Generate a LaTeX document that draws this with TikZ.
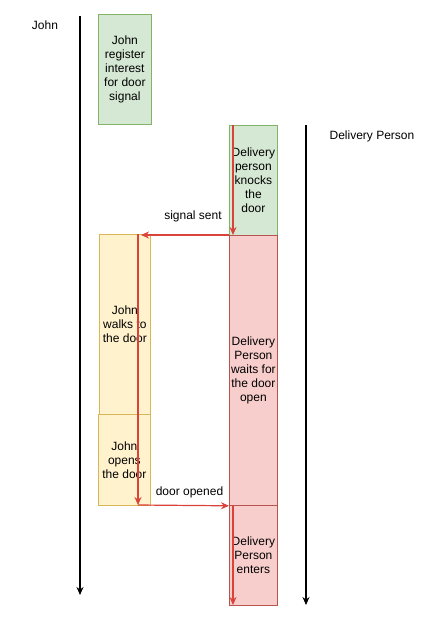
\documentclass[tikz,border=0pt]{standalone}
\usepackage{fontspec}
\setmainfont{Liberation Sans}
\usetikzlibrary{arrows.meta}
\definecolor{greenfill}{HTML}{D5E8D4}
\definecolor{greenline}{HTML}{82B366}
\definecolor{yellowfill}{HTML}{FFF2CC}
\definecolor{yellowline}{HTML}{D6B656}
\definecolor{redfill}{HTML}{F8CECC}
\definecolor{redline}{HTML}{B85450}
\definecolor{flowred}{HTML}{D9433A}
\tikzset{
  box/.style={draw, line width=0.8pt, anchor=north west, inner sep=0pt, align=center,
    font=\fontsize{12}{14}\selectfont},
  greenbox/.style={box, draw=greenline, fill=greenfill},
  yellowbox/.style={box, draw=yellowline, fill=yellowfill},
  redbox/.style={box, draw=redline, fill=redfill},
  label/.style={font=\fontsize{12}{14}\selectfont},
  flow/.style={draw=flowred, line width=1.2pt, -{Stealth[length=8pt,width=7pt]}},
  lifeline/.style={black, line width=1.2pt, -{Stealth[length=8pt,width=7pt]}}
}
\begin{document}
\begin{tikzpicture}[x=1pt,y=-1pt]
    \useasboundingbox (0,0) rectangle (426,634);
    % actors
    \node[label] (john) at (45,25) {John};
    \node[label] (delivery) at (372,136) {Delivery Person};
    \coordinate (jstart) at (80,16);
    \coordinate (jend) at (80,595);
    \coordinate (dstart) at (306,125);
    \coordinate (dend) at (306,605);
    \draw[lifeline] (jstart) -- (jend);
    \draw[lifeline] (dstart) -- (dend);
    % boxes
    \node[greenbox, minimum width=53pt, minimum height=110pt] (register) at (98,14)
        {John\\register\\interest\\for door\\signal};
    \node[greenbox, minimum width=48pt, minimum height=110pt] (knocks) at (229,125)
        {Delivery\\person\\knocks\\the\\door};
    \node[yellowbox, minimum width=51pt, minimum height=180pt] (walks) at (99,234)
        {John\\walks to\\the door};
    \node[yellowbox, minimum width=52pt, minimum height=91pt] (opens) at (98,414)
        {John\\opens\\the door};
    \node[redbox, minimum width=48pt, minimum height=270pt] (waits) at (229,235)
        {Delivery\\Person\\waits for\\the door\\open};
    \node[redbox, minimum width=48pt, minimum height=100pt] (enters) at (229,505)
        {Delivery\\Person\\enters};
    % flow
    \coordinate (ktop) at (233,125);
    \coordinate (kbot) at (233,235);
    \coordinate (wtop) at (138,234);
    \coordinate (wend) at (141,235);
    \coordinate (obot) at (138,505);
    \coordinate (etop) at (233,505);
    \coordinate (ebot) at (233,605);
    \draw[flow] (ktop) -- (kbot);
    \draw[flow] (waits.north west) -- (wend);
    \draw[flow] (wtop) -- (obot);
    \draw[flow] (obot) -- (waits.south west);
    \draw[flow] (etop) -- (ebot);
    \node[label] (sent) at (193,216) {signal sent};
    \node[label] (opened) at (189.5,492) {door opened};
\end{tikzpicture}
\end{document}
